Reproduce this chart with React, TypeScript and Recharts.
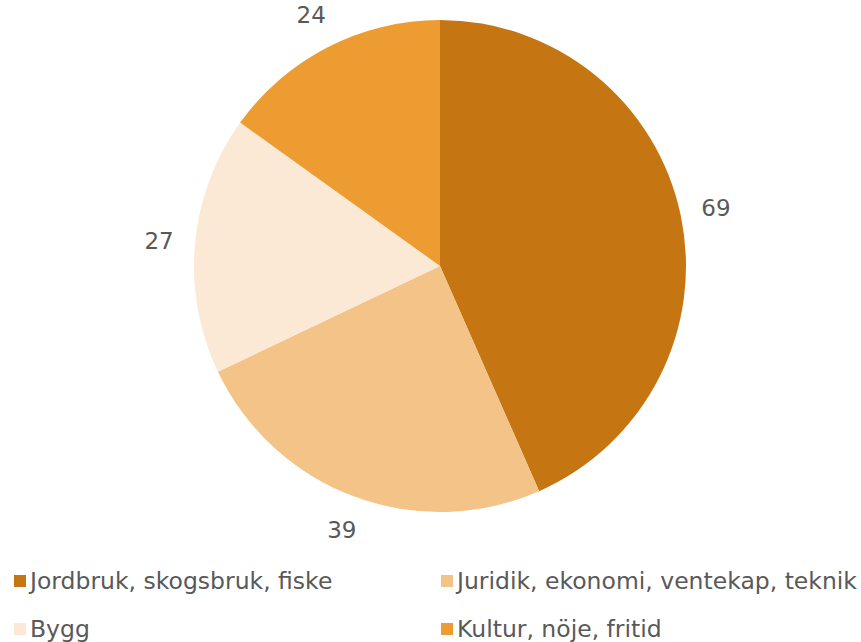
import React from "react";
import { PieChart, Pie, Cell, Legend } from "recharts";

const categories = [
  "Jordbruk, skogsbruk, fiske",
  "Juridik, ekonomi, ventekap, teknik",
  "Bygg",
  "Kultur, nöje, fritid",
];
const values = [69, 39, 27, 24];
const colors = ["#C57612", "#F4C388", "#FBE9D5", "#EC9C31"];

const data = categories.map((name, i) => ({ name, value: values[i] }));

const FONT = "'DejaVu Sans', Verdana, sans-serif";
const RAD = Math.PI / 180;

const renderLabel = (props: any) => {
  const { cx, cy, midAngle, outerRadius, value } = props;
  const r = outerRadius + 36;
  const x = cx + r * Math.cos(-midAngle * RAD);
  const y = cy + r * Math.sin(-midAngle * RAD);
  return (
    <text x={x} y={y} fill="#595959" fontSize={23} fontFamily={FONT}
      textAnchor="middle" dominantBaseline="central">
      {value}
    </text>
  );
};

const renderLegend = () => (
  <div style={{
    display: "grid", gridTemplateColumns: "427px 434px", rowGap: 20,
    fontFamily: FONT, fontSize: 23.5, color: "#595959",
  }}>
    {categories.map((c, i) => (
      <div key={c} style={{ display: "flex", alignItems: "center", height: 28, paddingLeft: 14 }}>
        <span style={{ width: 12, height: 12, background: colors[i], marginRight: 4, display: "inline-block", flexShrink: 0 }} />
        <span style={{ whiteSpace: "nowrap" }}>{c}</span>
      </div>
    ))}
  </div>
);

export default function App() {
  return (
    <div style={{ position: "absolute", left: 0, top: 0, width: 861, height: 642, background: "#fff" }}>
      <PieChart width={861} height={642} margin={{ top: 0, right: 0, bottom: 0, left: 0 }}>
        <Pie
          data={data}
          dataKey="value"
          cx={440}
          cy={266}
          outerRadius={246}
          startAngle={90}
          endAngle={-270}
          stroke="none"
          label={renderLabel}
          labelLine={false}
          isAnimationActive={false}
        >
          {data.map((d, i) => <Cell key={d.name} fill={colors[i]} />)}
        </Pie>
        <Legend content={renderLegend} wrapperStyle={{ position: "absolute", left: 0, top: 567, width: 861 }} />
      </PieChart>
    </div>
  );
}
